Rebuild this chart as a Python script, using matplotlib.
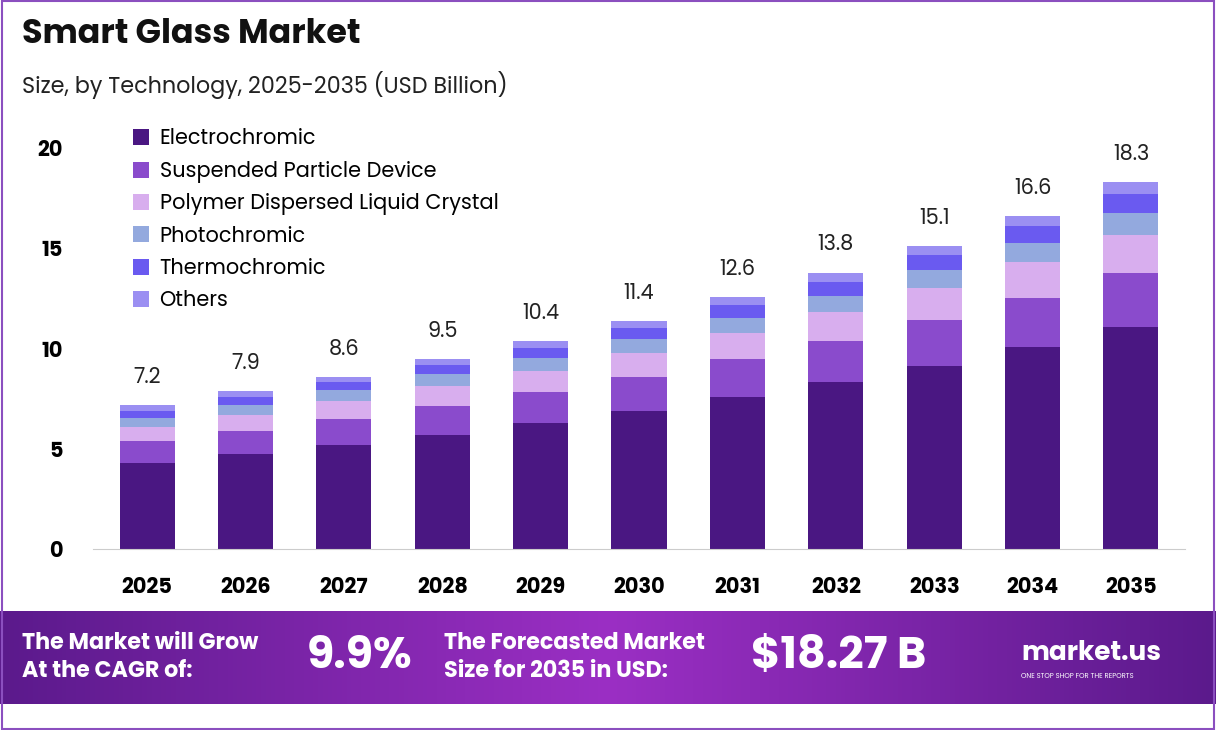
import matplotlib
matplotlib.use("Agg")
import matplotlib.pyplot as plt
import numpy as np
from matplotlib.patches import Rectangle
from matplotlib.colors import LinearSegmentedColormap

years = ["2025","2026","2027","2028","2029","2030","2031","2032","2033","2034","2035"]
totals = [7.2,7.9,8.6,9.5,10.4,11.4,12.6,13.8,15.1,16.6,18.3]
electro = [4.29,4.74,5.19,5.69,6.28,6.88,7.58,8.33,9.13,10.07,11.07]
spd = [1.10,1.15,1.30,1.45,1.55,1.70,1.90,2.05,2.30,2.45,2.70]
pdlc = [0.69,0.80,0.90,1.00,1.05,1.20,1.30,1.45,1.60,1.80,1.89]
photo = [0.45,0.50,0.55,0.60,0.65,0.70,0.75,0.80,0.90,0.95,1.10]
thermo = [0.35,0.40,0.40,0.45,0.50,0.55,0.65,0.70,0.75,0.85,0.94]
others = [0.32,0.31,0.26,0.31,0.37,0.37,0.42,0.47,0.42,0.48,0.60]
names = ["Electrochromic","Suspended Particle Device","Polymer Dispersed Liquid Crystal",
         "Photochromic","Thermochromic","Others"]
colors = ["#4A1782","#8A4BCC","#D8AEEE","#93A9DE","#6A5AF0","#9B8FF2"]

plt.rcParams['font.family'] = ['Poppins','Lato','DejaVu Sans']
fig = plt.figure(figsize=(12.16,7.30), dpi=100)
ax = fig.add_axes([0.0765,0.248,0.898,0.590])
x = np.arange(len(years))
bottom = np.zeros(len(years))
for vals,n,c in zip([electro,spd,pdlc,photo,thermo,others],names,colors):
    ax.bar(x,vals,bottom=bottom,width=0.56,color=c,label=n)
    bottom += np.array(vals)
for xi,t in zip(x,totals):
    ax.text(xi,t+0.8,f"{t}",ha='center',va='bottom',fontsize=15,color='#222')
ax.set_ylim(0,21.5)
ax.set_xlim(-0.55,10.55)
ax.set_yticks([0,5,10,15,20])
ax.set_xticks(x)
ax.set_xticklabels(years,fontsize=15,fontweight='bold')
ax.tick_params(axis='y',labelsize=15,length=0,pad=22)
for l in ax.get_yticklabels(): l.set_fontweight('bold')
ax.tick_params(axis='x',length=0,pad=20)
for s in ['top','right','left']: ax.spines[s].set_visible(False)
ax.spines['bottom'].set_color('#cccccc')
ax.legend(loc='upper left',bbox_to_anchor=(0.019,1.02),frameon=False,fontsize=15,
          handlelength=0.8,handleheight=0.8,labelspacing=0.5,handletextpad=0.5)

fig.text(0.018,0.952,"Smart Glass Market",fontsize=24,fontweight='bold',color='#111',va='center')
fig.text(0.018,0.883,"Size, by Technology, 2025-2035 (USD Billion)",fontsize=16,color='#222',va='center')

fax = fig.add_axes([0,0.035,1,0.128])
grad = np.linspace(0,1,256).reshape(1,-1)
cm = LinearSegmentedColormap.from_list('g',['#5B1A8C','#9B2FC4','#5B1A8C'])
fax.imshow(grad,aspect='auto',cmap=cm,extent=[0,1,0,1])
fax.set_xlim(0,1); fax.set_ylim(0,1); fax.axis('off')
fax.text(0.018,0.5,"The Market will Grow\nAt the CAGR of:",color='white',fontsize=16,fontweight='bold',va='center',linespacing=1.3)
fax.text(0.252,0.5,"9.9%",color='white',fontsize=32,fontweight='bold',va='center')
fax.text(0.365,0.5,"The Forecasted Market\nSize for 2035 in USD:",color='white',fontsize=16,fontweight='bold',va='center',linespacing=1.3)
fax.text(0.618,0.5,"$18.27 B",color='white',fontsize=32,fontweight='bold',va='center')
fax.text(0.84,0.55,"market.us",color='white',fontsize=19,fontweight='bold',va='center')
fax.text(0.84,0.30,"ONE STOP SHOP FOR THE REPORTS",color='white',fontsize=5,va='center')
fig.patches.append(Rectangle((0.002,0.002),0.996,0.996,transform=fig.transFigure,fill=False,edgecolor='#8B4FBF',lw=1.5))
fig.savefig("out.png",dpi=100,facecolor='white')
